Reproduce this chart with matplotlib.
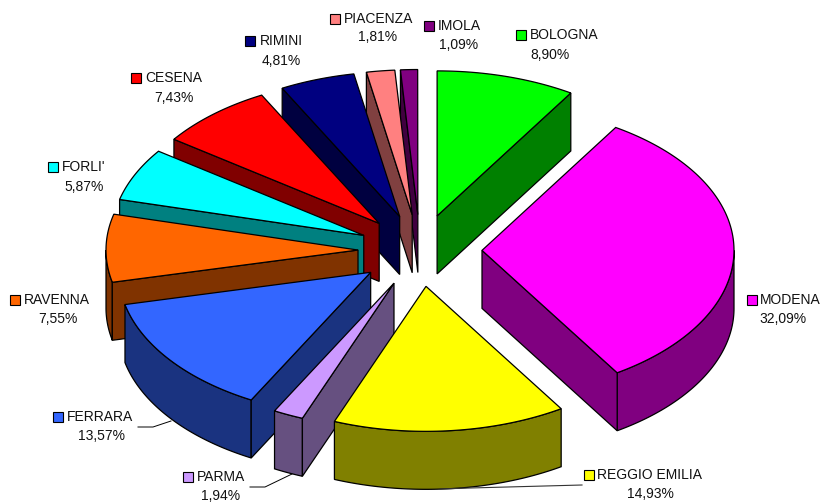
import numpy as np
import matplotlib
matplotlib.use('Agg')
import matplotlib.pyplot as plt
from matplotlib.patches import Polygon

# dati del grafico
province = ['BOLOGNA', 'MODENA', 'REGGIO EMILIA', 'PARMA', 'FERRARA', 'RAVENNA',
            "FORLI'", 'CESENA', 'RIMINI', 'PIACENZA', 'IMOLA']
valori = [8.90, 32.09, 14.93, 1.94, 13.57, 7.55, 5.87, 7.43, 4.81, 1.81, 1.09]

colori = ['#00FF00', '#FF00FF', '#FFFF00', '#CC99FF', '#3366FF', '#FF6600',
          '#00FFFF', '#FF0000', '#000080', '#FF8080', '#800080']
colori_lato = ['#008000', '#800080', '#808000', '#665080', '#1A3380', '#803300',
               '#008080', '#800000', '#000040', '#804040', '#400040']

# posizione etichette: x quadratino, y nome, x testo, x centro valore, y valore
etichette = [(521, 35, 530, 550, 55), (752, 300, 760, 783, 319), (589, 475, 597, 650, 494),
             (188, 477, 197, 221, 496), (58, 417, 67, 101, 436), (15, 300, 24, 58, 319),
             (53, 167, 62, 84, 187), (136, 78, 145, 174, 98), (250, 41, 260, 281, 61),
             (335, 19, 344, 378, 37), (429, 26, 438, 459, 45)]

# geometria della torta
CX, CY = 420, 250.5
RX, RY = 252, 145
EX, EY = 62, 36
H = 58


def punto(c, th, rx=RX, ry=RY):
    return c[0] + rx * np.sin(th), c[1] - ry * np.cos(th)


plt.rcParams['font.family'] = ['Liberation Sans', 'DejaVu Sans']
fig = plt.figure(figsize=(8.22, 5.04), dpi=100)
ax = fig.add_axes([0, 0, 1, 1])
ax.set_xlim(0, 822)
ax.set_ylim(504, 0)
ax.axis('off')

perc = np.array(valori) / 100
fine = np.cumsum(perc) * 2 * np.pi
inizio = fine - perc * 2 * np.pi
medio = (inizio + fine) / 2

# dal fondo verso il davanti
ordine = np.argsort(-np.cos(medio))
bordo = dict(edgecolor='black', linewidth=0.9, joinstyle='miter')

for i in ordine:
    a, b, m = inizio[i], fine[i], medio[i]
    c = (CX + EX * np.sin(m), CY - EY * np.cos(m))
    # parete esterna, solo la parte davanti
    a2, b2 = max(a, np.pi / 2), min(b, 3 * np.pi / 2)
    if b2 > a2:
        t = np.linspace(a2, b2, 80)
        x, y = punto(c, t)
        xy = np.r_[np.c_[x, y], np.c_[x[::-1], y[::-1] + H]]
        ax.add_patch(Polygon(xy, facecolor=colori_lato[i], **bordo))
    # facce radiali visibili
    if np.sin(a) < 0:
        p = punto(c, a)
        ax.add_patch(Polygon([c, p, (p[0], p[1] + H), (c[0], c[1] + H)],
                             facecolor=colori_lato[i], **bordo))
    if np.sin(b) > 0:
        p = punto(c, b)
        ax.add_patch(Polygon([c, p, (p[0], p[1] + H), (c[0], c[1] + H)],
                             facecolor=colori_lato[i], **bordo))
    # faccia superiore
    t = np.linspace(a, b, 120)
    x, y = punto(c, t)
    ax.add_patch(Polygon(np.r_[[c], np.c_[x, y]], facecolor=colori[i], **bordo))

# linee guida
ax.plot([138, 153, 171], [427, 427, 421], color='black', lw=0.7)
ax.plot([250, 265, 292], [487, 487, 474], color='black', lw=0.7)
ax.plot([582, 470, 440], [485, 488, 489], color='#333333', lw=0.8)

# etichette
for i, nome in enumerate(province):
    qx, ny, tx, vx, vy = etichette[i]
    ax.plot(qx, ny, marker='s', ms=6.5, mfc=colori[i], mec='black', mew=0.8, ls='none')
    ax.text(tx, ny, nome, fontsize=10, va='center', ha='left', color='#111111')
    testo = f'{valori[i]:.2f}%'.replace('.', ',')
    ax.text(vx, vy, testo, fontsize=10, va='center', ha='center', color='#111111')

fig.savefig('out.png', dpi=100, facecolor='white')
